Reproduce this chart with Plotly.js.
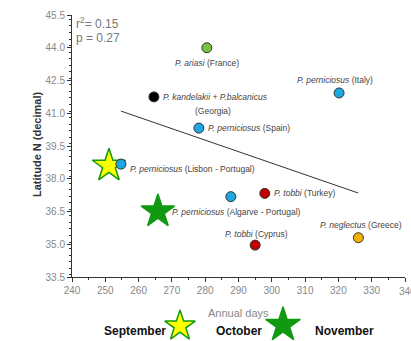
<!DOCTYPE html>
<html><head><meta charset="utf-8">
<script src="https://cdn.plot.ly/plotly-3.0.1.min.js"></script>
<style>html,body{margin:0;padding:0;background:#fff}#c{width:411px;height:341px}</style>
</head><body><div id="c"></div>
<script>
// Data
const siteNames = ["P. ariasi (France)","P. kandelakii + P.balcanicus (Georgia)","P. perniciosus (Italy)","P. perniciosus (Spain)","P. perniciosus (Lisbon - Portugal)","P. perniciosus (Algarve - Portugal)","P. tobbi (Turkey)","P. tobbi (Cyprus)","P. neglectus (Greece)"];
const annualDays = [280.5, 264.6, 320.2, 278.1, 254.7, 287.7, 297.9, 295.0, 326.0];
const latitudes  = [44.0, 41.75, 41.93, 40.32, 38.67, 37.18, 37.33, 34.96, 35.3];
const pointColors = ["#7cc242","#000000","#1ea7e1","#1ea7e1","#1ea7e1","#1ea7e1","#c00000","#c00000","#f2b400"];
const fitX = [254.7, 325.9];
const fitY = [41.1, 37.35];
const starX = [251.1, 265.8];
const starY = [38.6, 36.5];
const starFill = ["#ffff00", "#119a11"];
const legendLabels = ["September", "October", "November"];
const stats = ["r<sup>2</sup>= 0.15", "p = 0.27"];
const xMaxLabel = "340";

const labelSpecs = [
  {i:0, text:"<i>P. ariasi</i> (France)", ax:0, ay:15, xa:"center"},
  {i:1, text:"<i>P. kandelakii + P.balcanicus</i>", ax:7, ay:0, xa:"left"},
  {i:1, text:"(Georgia)", ax:59, ay:14, xa:"center"},
  {i:2, text:"<i>P. perniciosus</i> (Italy)", ax:-4, ay:-13, xa:"center"},
  {i:3, text:"<i>P. perniciosus</i> (Spain)", ax:7, ay:0, xa:"left"},
  {i:4, text:"<i>P. perniciosus</i> (Lisbon - Portugal)", ax:7, ay:5, xa:"left"},
  {i:5, text:"<i>P. perniciosus</i> (Algarve - Portugal)", ax:-61, ay:15, xa:"left"},
  {i:6, text:"<i>P. tobbi</i> (Turkey)", ax:7, ay:0, xa:"left"},
  {i:7, text:"<i>P. tobbi</i> (Cyprus)", ax:1, ay:-11, xa:"center"},
  {i:8, text:"<i>P. neglectus</i> (Greece)", ax:3, ay:-13, xa:"center"}
];

const W = 411, H = 341;
const L = 72, R = 405, T = 15, B = 277;

const traces = [
  {x: fitX, y: fitY, mode:"lines", line:{color:"#333", width:1}, hoverinfo:"skip", showlegend:false},
  {x: starX, y: starY, mode:"markers",
   marker:{symbol:"star", size:[25,25], color: starFill, opacity:1, line:{color:"#119a11", width:1.5}}, showlegend:false},
  {x: annualDays, y: latitudes, mode:"markers", text: siteNames,
   marker:{size:10, color: pointColors, opacity:1, line:{color:"#333", width:1}}, showlegend:false},
  // legend stars on full-paper pixel-space axes
  {x:[180, 283], y:[326, 325], xaxis:"x2", yaxis:"y2", mode:"markers", cliponaxis:false,
   marker:{symbol:"star", size:[23,26], color:[starFill[0], starFill[1]], opacity:1, line:{color:"#119a11", width:1.5}}, showlegend:false}
];

const lblFont = {family:"Liberation Sans, Arial", size:8.5, color:"#444"};
const annotations = labelSpecs.map(s => ({
  x: annualDays[s.i], y: latitudes[s.i], xref:"x", yref:"y",
  text: s.text, showarrow:false, xanchor: s.xa, yanchor:"middle",
  xshift: s.ax, yshift: -s.ay, font: lblFont
}));
const legFont = {family:"Liberation Sans, Arial", size:12, color:"#111"};
const tickFont = {family:"Liberation Sans, Arial", size:10, color:"#888"};
annotations.push(
  {xref:"x2", yref:"y2", x:74, y:13, xanchor:"left", yanchor:"top", showarrow:false,
   text: stats[0], font:{family:"Liberation Sans, Arial", size:12, color:"#777"}},
  {xref:"x2", yref:"y2", x:74, y:29, xanchor:"left", yanchor:"top", showarrow:false,
   text: stats[1], font:{family:"Liberation Sans, Arial", size:12, color:"#777"}},
  {xref:"x2", yref:"y2", x:37, y:145, textangle:-90, showarrow:false,
   text:"<b>Latitude N (decimal)</b>", font:{family:"Liberation Sans, Arial", size:11, color:"#333"}},
  {xref:"x2", yref:"y2", x:238, y:313, showarrow:false,
   text:"Annual days", font:{family:"Liberation Sans, Arial", size:11, color:"#888"}},
  {xref:"x2", yref:"y2", x:168, y:331, xanchor:"right", showarrow:false,
   text:"<b>"+legendLabels[0]+"</b>", font: legFont},
  {xref:"x2", yref:"y2", x:264, y:331, xanchor:"right", showarrow:false,
   text:"<b>"+legendLabels[1]+"</b>", font: legFont},
  {xref:"x2", yref:"y2", x:313, y:331, xanchor:"left", showarrow:false,
   text:"<b>"+legendLabels[2]+"</b>", font: legFont},
  {xref:"x", yref:"paper", x:340, y:(H-B)/H, yshift:-7, xanchor:"left", xshift:-8, yanchor:"top", showarrow:false,
   text:xMaxLabel, font: tickFont}
);

const layout = {
  width:W, height:H,
  margin:{l:0, r:0, t:0, b:0, pad:0},
  paper_bgcolor:"#fff", plot_bgcolor:"rgba(0,0,0,0)",
  showlegend:false,
  xaxis:{domain:[L/W, R/W], anchor:"y", range:[240,340], dtick:10, tick0:240, showgrid:false, zeroline:false,
    showline:true, linecolor:"#333", linewidth:1, ticks:"outside", ticklen:4, tickcolor:"#333",
    minor:{dtick:5, ticks:"outside", ticklen:2, tickcolor:"#333"}, tickfont: tickFont},
  yaxis:{domain:[(H-B)/H, (H-T)/H], anchor:"x", range:[33.5,45.5], dtick:1.5, tick0:33.5, tickformat:".1f",
    showgrid:false, zeroline:false,
    showline:true, linecolor:"#333", linewidth:1, ticks:"outside", ticklen:4, tickcolor:"#333",
    minor:{dtick:0.3, ticks:"outside", ticklen:2, tickcolor:"#333"}, tickfont: tickFont},
  xaxis2:{domain:[0,1], range:[0, W], visible:false, fixedrange:true, anchor:"y2"},
  yaxis2:{domain:[0,1], range:[H, 0], visible:false, fixedrange:true, anchor:"x2"},
  annotations: annotations
};

Plotly.newPlot("c", traces, layout, {displayModeBar:false, staticPlot:true});
</script></body></html>
